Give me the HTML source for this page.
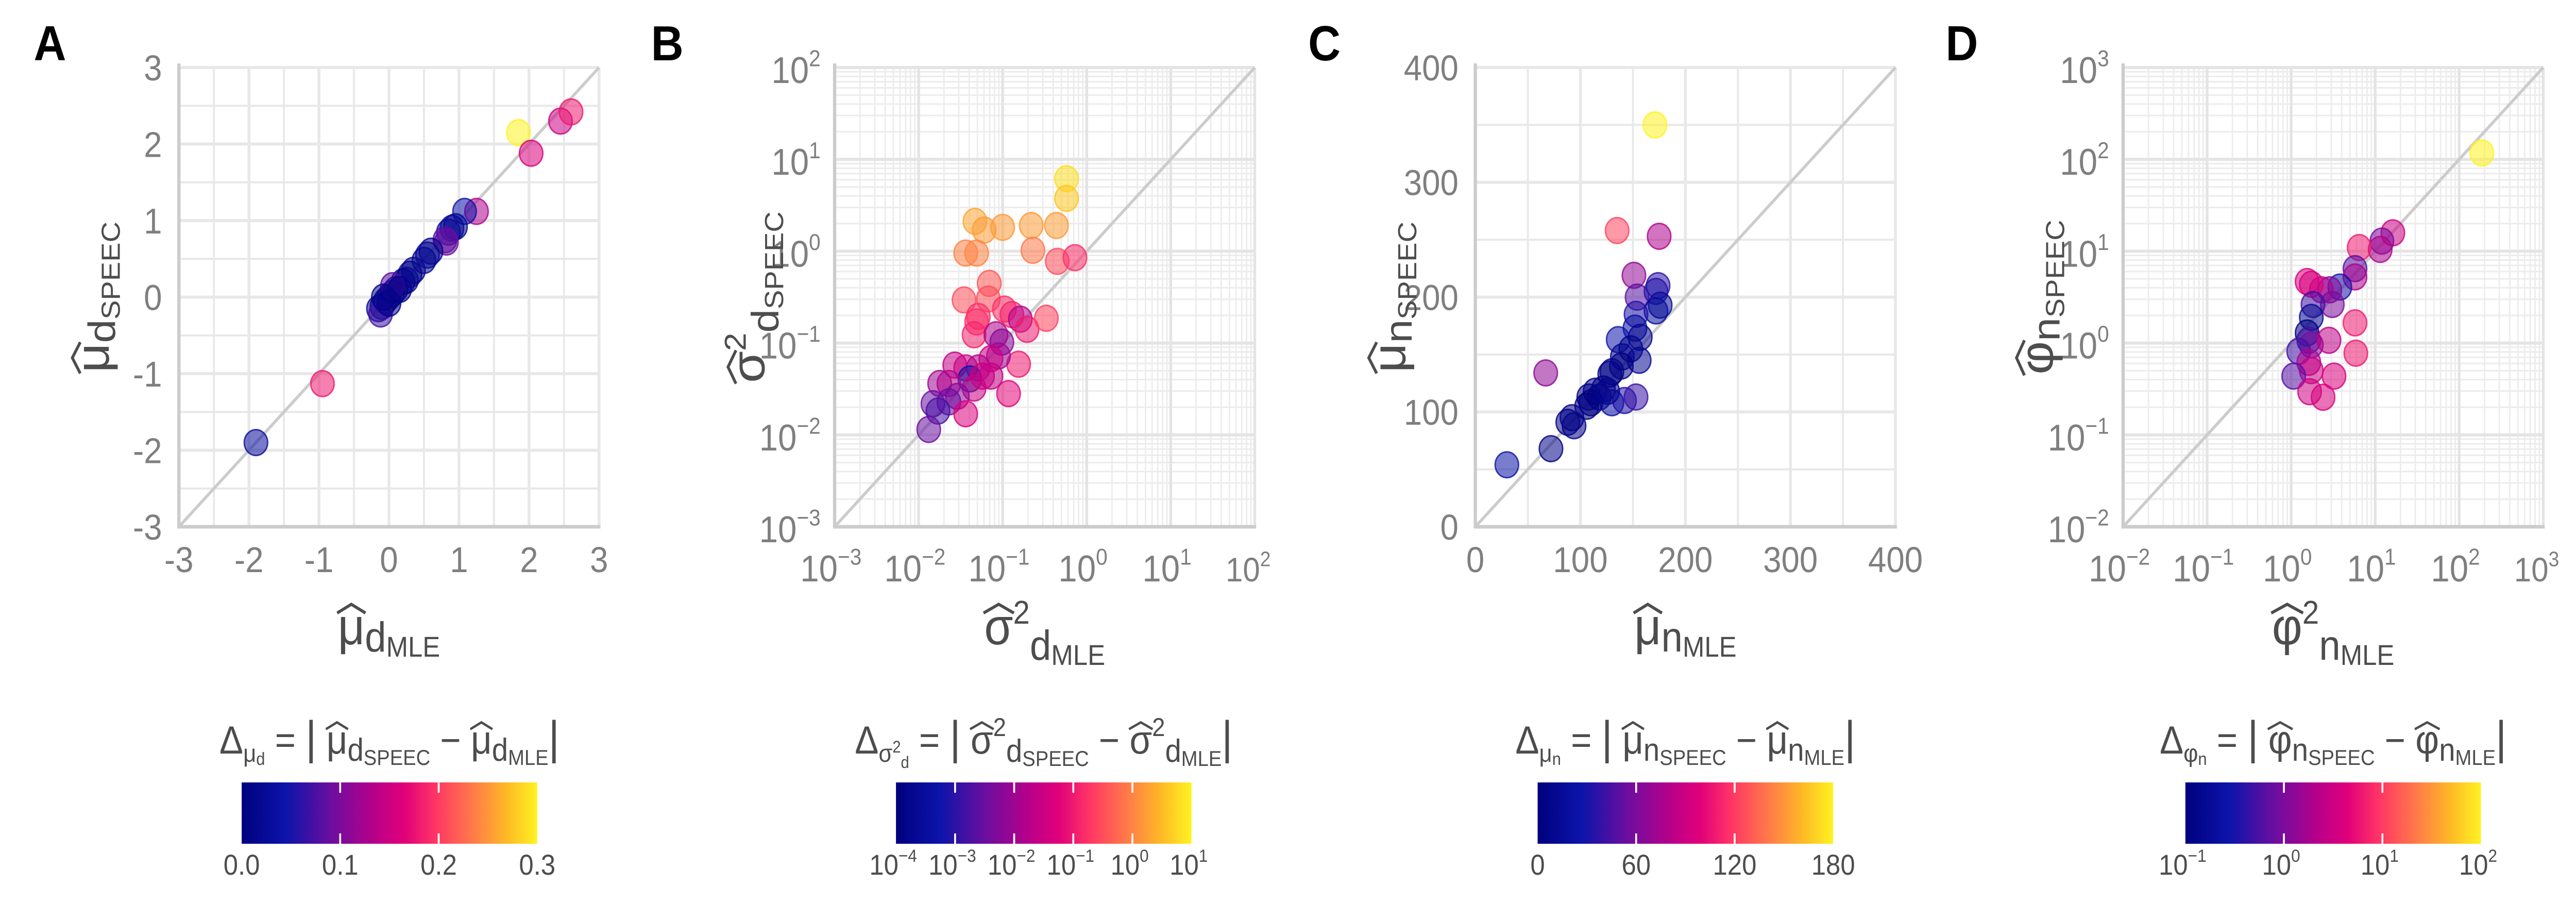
<!DOCTYPE html>
<html><head><meta charset="utf-8">
<style>
html,body{margin:0;padding:0;background:#fff;width:100%;height:100%;overflow:hidden;}
svg{display:block;overflow:hidden;width:100vw;height:100vh;}
text{font-family:"Liberation Sans","DejaVu Sans",sans-serif;}
</style></head>
<body>
<svg id="fig" xmlns="http://www.w3.org/2000/svg" viewBox="0 0 5500 1750" preserveAspectRatio="none">
<rect x="0" y="0" width="5500" height="1750" fill="#fff"/>
</svg>
<script>
// ---------- Panel A data ----------
const aX = [-1.9,-0.95,1.85,2.03,2.45,2.6,1.25,1.08,0.9,0.85,0.95,0.8,0.82,0.6,0.55,0.5,0.35,0.3,0.25,0.2,0.1,0.05,0,-0.05,-0.1,-0.15,-0.12,0.05,0.0,0.15,-0.08];
const aY = [-1.9,-1.13,2.15,1.88,2.3,2.42,1.12,1.12,0.9,0.85,0.92,0.75,0.72,0.6,0.55,0.48,0.35,0.3,0.22,0.2,0.1,0.05,0,-0.05,-0.12,-0.15,-0.22,0.15,-0.08,0.1,0.0];
const aD = [0.03,0.18,0.3,0.16,0.15,0.18,0.13,0.04,0.02,0.03,0.02,0.08,0.09,0.01,0.02,0.02,0.02,0.01,0.02,0.01,0.01,0.0,0.01,0.01,0.02,0.02,0.07,0.08,0.01,0.01,0.01];
const aTicks = [-3,-2,-1,0,1,2,3];
const aCbTicks = ["0.0","0.1","0.2","0.3"];
// ---------- Panel B data (log10) ----------
const bX = [-0.24,-0.24,-1.33,-1.22,-1.0,-0.66,-0.36,-1.44,-1.31,-0.64,-0.35,-0.14,-1.16,-1.46,-1.17,-1.29,-1.31,-1.34,-0.98,-0.89,-0.79,-0.71,-0.48,-1.08,-1.01,-0.81,-0.93,-1.05,-1.14,-1.57,-1.44,-1.29,-1.39,-1.24,-1.14,-1.34,-1.75,-1.64,-1.54,-1.64,-1.83,-1.77,-1.44,-1.88];
const bY = [0.79,0.575,0.325,0.23,0.26,0.28,0.28,-0.02,-0.02,0.01,-0.11,-0.07,-0.35,-0.53,-0.52,-0.71,-0.77,-0.91,-0.63,-0.69,-0.74,-0.85,-0.73,-0.91,-0.99,-1.23,-1.55,-1.14,-1.17,-1.24,-1.27,-1.27,-1.39,-1.36,-1.36,-1.49,-1.44,-1.44,-1.58,-1.64,-1.66,-1.74,-1.77,-1.94];
const bD = [0.8,0.6,0.3,0.2,0.2,0.2,0.2,0.0,0.0,-0.1,-0.5,-0.8,-0.4,-0.5,-0.5,-0.8,-0.8,-0.9,-0.8,-0.9,-1.8,-1.0,-0.6,-1.8,-2.2,-1.0,-1.2,-2.0,-1.5,-1.6,-1.5,-1.8,-3.3,-1.5,-1.6,-1.5,-2.0,-1.8,-2.2,-2.5,-2.5,-2.8,-1.3,-2.5];
const bTicks = [-3,-2,-1,0,1,2];
const bCbTicks = [-4,-3,-2,-1,0,1];
// ---------- Panel C data ----------
const cX = [30,72,67,135,171,175,151,154,174,172,176,172,153,152,157,136,148,140,156,139,130,128,122,114,108,118,130,142,153,106,92,88,94,110,126];
const cY = [54,68,134,258,350,253,219,200,210,205,193,188,185,173,165,163,155,148,145,140,135,133,120,118,113,113,108,110,113,105,95,91,88,108,118];
const cD = [24,4,67,123,180,78,68,48,36,33,17,16,32,21,8,27,7,8,11,1,5,5,2,3,5,5,22,32,40,1,3,3,6,2,8];
const cTicks = [0,100,200,300,400];
const cCbTicks = [0,60,120,180];
// ---------- Panel D data (log10) ----------
const dX = [2.27,1.21,1.08,1.06,0.81,0.76,0.76,0.58,0.46,0.36,0.49,0.19,0.24,0.26,0.24,0.19,0.21,0.24,0.45,0.09,0.21,0.24,0.03,0.51,0.22,0.38,0.76,0.77];
const dY = [2.07,1.20,1.11,1.02,1.04,0.81,0.72,0.61,0.58,0.58,0.42,0.67,0.64,0.42,0.28,0.11,0.03,-0.02,0.03,-0.09,-0.21,-0.30,-0.36,-0.36,-0.53,-0.59,0.22,-0.11];
const dD = [2.0,0.5,0.0,0.3,0.8,-0.2,0.3,-0.5,0.0,0.3,0.0,0.6,0.6,-0.3,-0.8,-1.0,-0.3,0.0,0.4,-0.3,0.3,0.5,-0.2,0.6,0.5,0.6,0.8,0.8];
const dTicks = [-2,-1,0,1,2,3];
const dCbTicks = [-1,0,1,2];

const NS = "http://www.w3.org/2000/svg";
const svg = document.getElementById('fig');
const STOPS = [[0,'#00007f'],[0.15,'#0c14aa'],[0.3,'#6a0ea0'],[0.45,'#b8008a'],[0.55,'#e0007a'],[0.65,'#ff3266'],[0.8,'#ff8444'],[0.9,'#fdbb24'],[1,'#fff321']];
function hex(c){return [parseInt(c.substr(1,2),16),parseInt(c.substr(3,2),16),parseInt(c.substr(5,2),16)];}
function cmap(t){
  t=Math.max(0,Math.min(1,t));
  for(let i=1;i<STOPS.length;i++){
    if(t<=STOPS[i][0]){
      const a=STOPS[i-1],b=STOPS[i],f=(t-a[0])/(b[0]-a[0]);
      const ca=hex(a[1]),cb=hex(b[1]);
      return 'rgb('+ca.map((v,k)=>Math.round(v+(cb[k]-v)*f)).join(',')+')';
    }
  }
  return STOPS[STOPS.length-1][1];
}
function el(tag,attrs,parent){const e=document.createElementNS(NS,tag);for(const k in attrs)e.setAttribute(k,attrs[k]);(parent||svg).appendChild(e);return e;}

const defs=el('defs',{});
const grad=el('linearGradient',{id:'cb',x1:'0',x2:'1',y1:'0',y2:'0'},defs);
for(let i=0;i<=20;i++){el('stop',{offset:(i/20),'stop-color':cmap(i/20)},grad);}

function supText(parent,x,y,base,exp,size,anchor,color){
  const t=el('text',{x:x,y:y,'font-size':size,fill:color,'text-anchor':anchor},parent);
  const s1=document.createElementNS(NS,'tspan');s1.textContent=base;t.appendChild(s1);
  const s2=document.createElementNS(NS,'tspan');s2.setAttribute('dy',-size*0.45);s2.setAttribute('font-size',size*0.62);
  s2.textContent=(exp<0?'\u2212':'')+Math.abs(exp);t.appendChild(s2);
  return t;
}

function mathLabel(parent,x,y,transform,parts,name){
  const g=el('g',{transform:transform},parent);
  const t=el('text',{x:x,y:y,fill:'#4d4d4d','text-anchor':'middle'},g);
  
  
  const hats=[];let idx=0;
  parts.forEach(p=>{
    const s=document.createElementNS(NS,'tspan');
    s.setAttribute('font-size',p[1]);s.setAttribute('dy',p[2]);s.textContent=p[0];t.appendChild(s);
    if(p[3])hats.push([idx,p[1]]);
    idx+=p[0].length;
  });
  hats.forEach(h=>{
    try{
      const r=t.getExtentOfChar(h[0]);
      const w=r.width*1.05,cx=r.x+r.width/2,top=r.y+r.height*0.2;
      const hp=el('path',{d:`M${cx-w/2},${top+h[1]*0.07} L${cx},${top-h[1]*0.1} L${cx+w/2},${top+h[1]*0.07}`,fill:'none',stroke:'#4d4d4d','stroke-width':h[1]*0.06},g);
      
      
    }catch(e){}
  });
  return t;
}

function panel(cfg){
  const g=el('g',{});
  
  
  const L=cfg.left,R=L+897,T=131,B=1022;
  const [d0,d1]=cfg.dom;
  const sx=v=>L+(v-d0)/(d1-d0)*(R-L);
  const sy=v=>B-(v-d0)/(d1-d0)*(B-T);
  const grid=el('g',{},g);
  
  
  if(cfg.log){
    for(let e=d0;e<d1;e++){for(let m=2;m<=9;m++){const v=e+Math.log10(m);
      el('line',{x1:sx(v),x2:sx(v),y1:T,y2:B,stroke:'#ececec','stroke-width':3},grid);
      el('line',{x1:L,x2:R,y1:sy(v),y2:sy(v),stroke:'#ececec','stroke-width':3},grid);}}
    for(let e=d0;e<=d1;e++){
      el('line',{x1:sx(e),x2:sx(e),y1:T,y2:B,stroke:'#e4e4e4','stroke-width':6},grid);
      el('line',{x1:L,x2:R,y1:sy(e),y2:sy(e),stroke:'#e4e4e4','stroke-width':6},grid);}
  } else {
    const step=cfg.ticks[1]-cfg.ticks[0];
    for(let v=d0;v<=d1+1e-9;v+=step/2){
      const major=Math.abs(Math.round(v/step)*step-v)<1e-9;
      el('line',{x1:sx(v),x2:sx(v),y1:T,y2:B,stroke:'#e8e8e8','stroke-width':major?6:4},grid);
      el('line',{x1:L,x2:R,y1:sy(v),y2:sy(v),stroke:'#e8e8e8','stroke-width':major?6:4},grid);}
  }
  const diag=el('line',{x1:sx(d0),y1:sy(d0),x2:sx(d1),y2:sy(d1),stroke:'#cccccc','stroke-width':6},g);
  
  
  const ax=el('path',{d:`M${L},${T-8} L${L},${B} L${R+3},${B}`,fill:'none',stroke:'#cccccc','stroke-width':7},g);
  
  
  const pts=el('g',{},g);
  
  
  for(let i=0;i<cfg.xs.length;i++){
    const c=cmap((cfg.ds[i]-cfg.cb0)/(cfg.cb1-cfg.cb0));
    const p=el('ellipse',{cx:sx(cfg.xs[i]),cy:sy(cfg.ys[i]),rx:25,ry:25,fill:c,'fill-opacity':0.55,stroke:c,'stroke-opacity':0.8,'stroke-width':3},pts);
    
    
  }
  const tl=el('g',{},g);
  
  
  cfg.ticks.forEach((v,i)=>{
    if(cfg.log){
      const last=(i===cfg.ticks.length-1);
      const t1=supText(tl,sx(v)-(last?14:8),1128,'10',v,last?66:72,'middle','#7f7f7f');
      
      
      const t2=supText(tl,L-30,sy(v)+30,'10',v,72,'end','#7f7f7f');
      
      
    } else {
      const lab=(v<0?'-':'')+Math.abs(v);
      const t1=el('text',{x:sx(v),y:1110,'font-size':70,fill:'#7f7f7f','text-anchor':'middle'},tl);
      t1.textContent=lab;
      
      
      const t2=el('text',{x:L-36,y:sy(v)+25,'font-size':70,fill:'#7f7f7f','text-anchor':'end'},tl);
      t2.textContent=lab;
      
      
    }
  });
  const pl=el('text',{x:cfg.letterX,y:117,'font-size':96,'font-weight':'bold',fill:'#000'},g);
  pl.textContent=cfg.id;
  
  
  mathLabel(g,(L+R)/2,1250,'',cfg.xTitle,'x-axis-title');
  mathLabel(g,0,0,`translate(${L-150},${(T+B)/2}) rotate(-90)`,cfg.yTitle,'y-axis-title');
  const cbL=cfg.cbLeft,cbW=631,cbT=1518,cbH=119;
  const cb=el('rect',{x:cbL,y:cbT,width:cbW,height:cbH,fill:'url(#cb)'},g);
  
  
  const n=cfg.cbTicks.length;
  cfg.cbTicks.forEach((tk,i)=>{
    const x=cbL+i/(n-1)*cbW;
    if(i>0&&i<n-1){
      el('line',{x1:x,x2:x,y1:cbT,y2:cbT+20,stroke:'#fff','stroke-width':4},g);
      el('line',{x1:x,x2:x,y1:cbT+cbH-20,y2:cbT+cbH,stroke:'#fff','stroke-width':4},g);
    }
    let t;
    if(cfg.cbLog){t=supText(g,x-6,1697,'10',tk,56,'middle','#4d4d4d');}
    else{t=el('text',{x:x,y:1697,'font-size':56,fill:'#4d4d4d','text-anchor':'middle'},g);t.textContent=tk;}
    
    
  });
  mathLabel(g,cbL+cbW/2,1462,'',cfg.cbTitle,'colorbar-title');
}
function axisTitle(sym,sq,s1,s2){
  const p=[[sym,100,0,true]];
  if(sq){p.push(['2',64,-40,false]);p.push([s1,82,70,false]);}
  else p.push([s1,82,14,false]);
  p.push([s2,56,10,false]);
  return p;
}
function cbTitle(sym,sq,s1){
  const p=[['Δ',76,0,false],[sym,48,16,false]];
  if(sq){p.push(['2',32,-18,false]);p.push([s1,32,30,false]);}
  else p.push([s1,34,6,false]);
  const back=sq?-28:-22;
  p.push([' = ',76,back,false],['|',90,0,false],[' ',76,0,false],[sym,78,0,true]);
  if(sq)p.push(['2',50,-34,false],[s1,62,50,false]); else p.push([s1,62,14,false]);
  p.push(['SPEEC',42,8,false],[' − ',76,sq?-24:-22,false],[sym,78,0,true]);
  if(sq)p.push(['2',50,-34,false],[s1,62,50,false]); else p.push([s1,62,14,false]);
  p.push(['MLE',42,8,false],['|',90,sq?-24:-22,false]);
  return p;
}
panel({id:'A',left:382,letterX:72,dom:[-3,3],ticks:aTicks,xs:aX,ys:aY,ds:aD,cb0:0,cb1:0.3,cbLeft:516,cbTicks:aCbTicks,cbLog:false,
  xTitle:axisTitle('μ',false,'d','MLE'),yTitle:axisTitle('μ',false,'d','SPEEC'),cbTitle:cbTitle('μ',false,'d')});
panel({id:'B',left:1782,letterX:1390,log:true,dom:[-3,2],ticks:bTicks,xs:bX,ys:bY,ds:bD,cb0:-4,cb1:1,cbLeft:1913,cbTicks:bCbTicks,cbLog:true,
  xTitle:axisTitle('σ',true,'d','MLE'),yTitle:axisTitle('σ',true,'d','SPEEC'),cbTitle:cbTitle('σ',true,'d')});
panel({id:'C',left:3150,letterX:2793,dom:[0,400],ticks:cTicks,xs:cX,ys:cY,ds:cD,cb0:0,cb1:180,cbLeft:3283,cbTicks:cCbTicks,cbLog:false,
  xTitle:axisTitle('μ',false,'n','MLE'),yTitle:axisTitle('μ',false,'n','SPEEC'),cbTitle:cbTitle('μ',false,'n')});
panel({id:'D',left:4533,letterX:4154,log:true,dom:[-2,3],ticks:dTicks,xs:dX,ys:dY,ds:dD,cb0:-1,cb1:2,cbLeft:4666,cbTicks:dCbTicks,cbLog:true,
  xTitle:axisTitle('φ',true,'n','MLE'),yTitle:axisTitle('φ',false,'n','SPEEC'),cbTitle:cbTitle('φ',false,'n')});
</script>
</body></html>
